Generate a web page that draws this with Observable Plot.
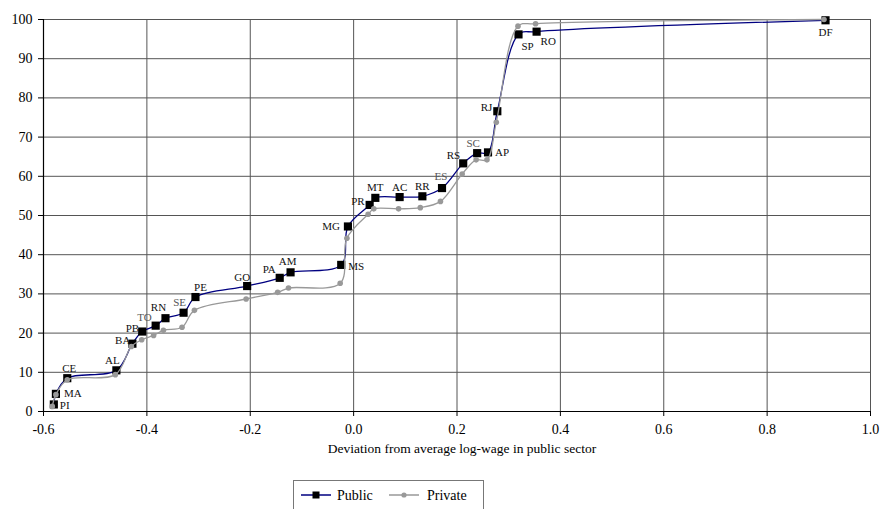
<!DOCTYPE html>
<html>
<head>
<meta charset="utf-8">
<script src="https://cdn.jsdelivr.net/npm/d3@7"></script>
<script src="https://cdn.jsdelivr.net/npm/@observablehq/plot@0.6"></script>
<style>
  html, body { margin: 0; padding: 0; background: #fff; }
  #wrap { position: relative; width: 882px; height: 509px; overflow: hidden; font-family: "Liberation Serif", "Times New Roman", Tinos, "DejaVu Serif", serif; }
  #wrap svg text { font-family: "Liberation Serif", "Times New Roman", Tinos, "DejaVu Serif", serif; }
  #legend { position: absolute; left: 293px; top: 480px; width: 191px; height: 40px; border: 1px solid #777; box-sizing: border-box; background: #fff; }
  #legend svg { display: block; }
</style>
</head>
<body>
<div id="wrap"></div>
<script>
// State codes (ordered along the curve)
const codes = ["PI","MA","CE","AL","BA","PB","TO","RN","SE","PE","GO","PA","AM","MS","MG","PR","MT","AC","RR","ES","RS","SC","AP","RJ","SP","RO","DF"];
// Public series
const publicX = [-0.580,-0.576,-0.554,-0.459,-0.428,-0.409,-0.383,-0.364,-0.329,-0.306,-0.206,-0.143,-0.122,-0.024,-0.011,0.031,0.042,0.089,0.133,0.171,0.212,0.239,0.260,0.278,0.319,0.354,0.913];
const publicY = [1.8,4.5,8.5,10.5,17.3,20.4,21.9,23.8,25.2,29.2,32.0,34.1,35.5,37.4,47.2,52.7,54.5,54.7,54.9,57.0,63.3,65.9,66.1,76.6,96.2,96.9,99.8];
// Private series
const privateX = [-0.583,-0.576,-0.554,-0.461,-0.430,-0.410,-0.387,-0.368,-0.332,-0.308,-0.208,-0.147,-0.126,-0.026,-0.013,0.028,0.039,0.087,0.129,0.168,0.210,0.237,0.258,0.276,0.318,0.352,0.910];
const privateY = [1.3,4.3,8.1,9.4,16.6,18.3,19.4,20.7,21.5,25.8,28.7,30.4,31.5,32.7,44.2,50.3,51.7,51.7,52.0,53.6,60.6,64.2,64.2,73.8,98.3,98.9,100.0];
// Tick labels
const xTicks = [-0.6,-0.4,-0.2,0.0,0.2,0.4,0.6,0.8,1.0];
const yTicks = [0,10,20,30,40,50,60,70,80,90,100];
const xLabel = "Deviation from average log-wage in public sector";
const seriesNames = ["Public","Private"];

// Label placement (layout only): [dx, dy, anchor]
const labelPlace = {
  PI:[6,1,"start"], MA:[8,0,"start"], CE:[2,-10,"middle"], AL:[-4,-10,"middle"],
  BA:[-2,-3,"end"], PB:[-3,-3,"end"], TO:[-4,-8,"end"], RN:[-7,-11,"middle"],
  SE:[-4,-10,"middle"], PE:[5,-10,"middle"], GO:[-5,-9,"middle"], PA:[-4,-8,"end"],
  AM:[-3,-11,"middle"], MS:[7,2,"start"], MG:[-8,0,"end"], PR:[-5,-3,"end"],
  MT:[0,-10,"middle"], AC:[0,-10,"middle"], RR:[0,-10,"middle"], ES:[-1,-12,"middle"],
  RS:[-3,-8,"end"], SC:[-4,-10,"middle"], AP:[7,0,"start"], RJ:[-5,-4,"end"],
  SP:[9,12,"middle"], RO:[4,10,"start"], DF:[0,12,"middle"]
};
const lightLabels = new Set(["TO","SE","ES","SC"]);

const pub = codes.map((c, i) => ({code: c, x: publicX[i], y: publicY[i]}));
const priv = codes.map((c, i) => ({code: c, x: privateX[i], y: privateY[i]}));

// dx/dy are constant per mark in Plot, so each label is its own text mark
const labelEach = pub.map(d => {
  const [dx, dy, anchor] = labelPlace[d.code];
  return Plot.text([d], {
    x: "x", y: "y", text: "code", textAnchor: anchor, dx, dy,
    fontSize: 11, fill: lightLabels.has(d.code) ? "#555" : "#111"
  });
});

const serif = "'Liberation Serif', 'Times New Roman', Tinos, 'DejaVu Serif', serif";

const chart = Plot.plot({
  width: 882,
  height: 478,
  marginLeft: 43,
  marginRight: 12,
  marginTop: 19,
  marginBottom: 67,
  style: {fontFamily: serif, fontSize: "14px", background: "white", color: "#000"},
  x: {domain: [-0.6, 1.0]},
  y: {domain: [0, 100]},
  marks: [
    Plot.gridX(xTicks, {stroke: "#555", strokeOpacity: 1}),
    Plot.gridY(yTicks, {stroke: "#555", strokeOpacity: 1}),
    Plot.ruleX([-0.6], {stroke: "#000", strokeWidth: 1.2}),
    Plot.ruleY([0], {stroke: "#000", strokeWidth: 1.2}),
    Plot.axisX({ticks: xTicks, tickSize: 5, tickPadding: 8, tickFormat: d => d.toFixed(1), label: null, fontSize: 14}),
    Plot.axisY({ticks: yTicks, tickSize: 5, tickPadding: 6, label: null, fontSize: 14}),
    Plot.text([xLabel], {frameAnchor: "bottom", dx: 5, dy: 41, fontSize: 13.5, fill: "#000"}),
    Plot.line(pub, {x: "x", y: "y", stroke: "#000080", strokeWidth: 1.3, curve: "catmull-rom"}),
    Plot.dot(pub, {x: "x", y: "y", symbol: "square", r: 4.6, fill: "#000", stroke: "none"}),
    Plot.line(priv, {x: "x", y: "y", stroke: "#999", strokeWidth: 1.3, curve: "catmull-rom"}),
    Plot.dot(priv, {x: "x", y: "y", r: 2.8, fill: "#999", stroke: "none"}),
    ...labelEach
  ]
});

const wrap = document.getElementById("wrap");
wrap.appendChild(chart);

// Legend below the chart
const legend = document.createElement("div");
legend.id = "legend";
legend.innerHTML = `
<svg width="191" height="40" style="font-size:14px">
  <line x1="7" x2="37" y1="14" y2="14" stroke="#000080" stroke-width="1.5"/>
  <rect x="18.5" y="10.5" width="7" height="7" fill="#000"/>
  <text x="43" y="18.5" fill="#000">${seriesNames[0]}</text>
  <line x1="95" x2="125" y1="14" y2="14" stroke="#999" stroke-width="1.5"/>
  <circle cx="110" cy="14" r="2.6" fill="#999"/>
  <text x="133" y="18.5" fill="#000">${seriesNames[1]}</text>
</svg>`;
wrap.appendChild(legend);
</script>
</body>
</html>
